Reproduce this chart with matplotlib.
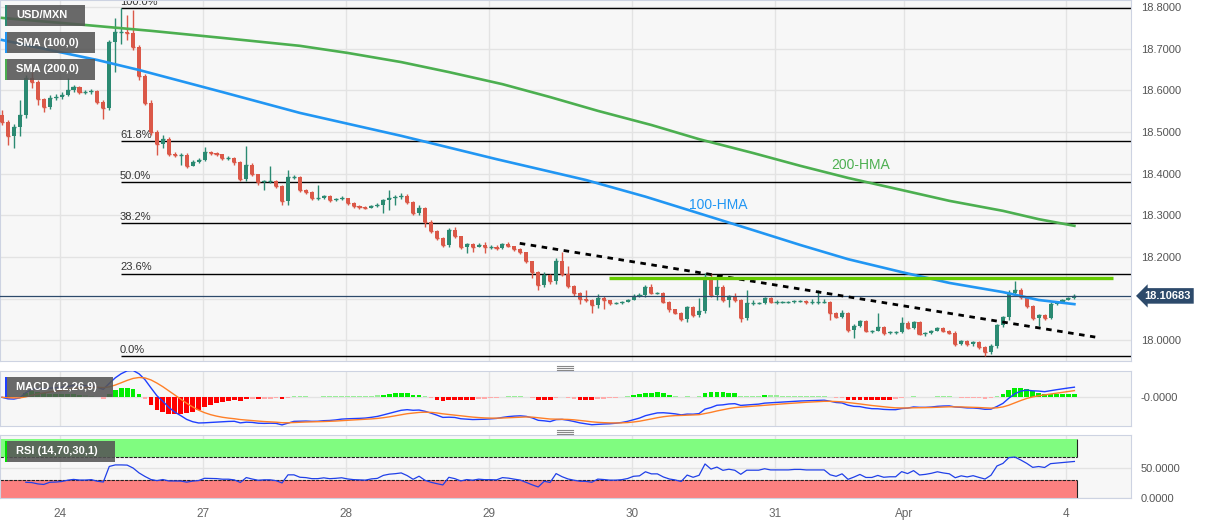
import numpy as np
import pandas as pd
import matplotlib.pyplot as plt
from matplotlib.patches import Rectangle
from matplotlib.lines import Line2D
from matplotlib.transforms import blended_transform_factory

plt.rcParams["font.family"] = ["Liberation Sans", "DejaVu Sans"]

# hourly USD/MXN candles, oldest first (open = previous close)
first_open = 18.541
closes = [
    18.524, 18.491, 18.512, 18.541, 18.630, 18.620, 18.579, 18.560, 18.582, 18.584,
    18.589, 18.601, 18.608, 18.596, 18.596, 18.599, 18.572, 18.558, 18.716, 18.740,
    18.740, 18.738, 18.704, 18.635, 18.570, 18.500, 18.471, 18.483, 18.447, 18.445,
    18.445, 18.419, 18.428, 18.433, 18.452, 18.450, 18.447, 18.438, 18.438, 18.428,
    18.387, 18.421, 18.399, 18.380, 18.383, 18.383, 18.371, 18.335, 18.392, 18.392,
    18.361, 18.356, 18.342, 18.342, 18.347, 18.337, 18.339, 18.342, 18.330, 18.323,
    18.320, 18.318, 18.323, 18.325, 18.337, 18.342, 18.344, 18.347, 18.332, 18.306,
    18.318, 18.284, 18.263, 18.246, 18.229, 18.265, 18.251, 18.224, 18.231, 18.224,
    18.229, 18.224, 18.224, 18.222, 18.231, 18.227, 18.219, 18.212, 18.191, 18.164,
    18.133, 18.157, 18.143, 18.191, 18.159, 18.131, 18.114, 18.099, 18.097, 18.085,
    18.102, 18.097, 18.090, 18.090, 18.092, 18.097, 18.107, 18.109, 18.128, 18.114,
    18.114, 18.092, 18.075, 18.066, 18.051, 18.080, 18.061, 18.071, 18.152, 18.109,
    18.128, 18.097, 18.107, 18.097, 18.054, 18.090, 18.090, 18.090, 18.102, 18.092,
    18.092, 18.092, 18.092, 18.095, 18.095, 18.092, 18.092, 18.092, 18.092, 18.066,
    18.056, 18.066, 18.025, 18.035, 18.047, 18.023, 18.023, 18.032, 18.018, 18.020,
    18.020, 18.042, 18.030, 18.044, 18.015, 18.018, 18.023, 18.030, 18.023, 18.018,
    17.991, 17.999, 17.991, 17.996, 17.984, 17.972, 17.987, 18.037, 18.056, 18.114,
    18.121, 18.104, 18.083, 18.054, 18.061, 18.054, 18.087, 18.092, 18.097, 18.102,
    18.10683,
]
highs = [
    18.553, 18.529, 18.519, 18.577, 18.637, 18.644, 18.625, 18.582, 18.589, 18.591,
    18.596, 18.630, 18.613, 18.611, 18.601, 18.603, 18.601, 18.577, 18.721, 18.774,
    18.798, 18.781, 18.793, 18.709, 18.639, 18.577, 18.505, 18.493, 18.488, 18.452,
    18.450, 18.450, 18.433, 18.438, 18.464, 18.455, 18.452, 18.447, 18.443, 18.440,
    18.431, 18.467, 18.426, 18.399, 18.385, 18.419, 18.385, 18.373, 18.409, 18.397,
    18.395, 18.363, 18.359, 18.373, 18.349, 18.349, 18.342, 18.347, 18.342, 18.332,
    18.325, 18.323, 18.325, 18.330, 18.339, 18.361, 18.349, 18.354, 18.351, 18.335,
    18.325, 18.320, 18.289, 18.265, 18.248, 18.270, 18.272, 18.251, 18.234, 18.234,
    18.234, 18.236, 18.229, 18.229, 18.234, 18.236, 18.227, 18.222, 18.212, 18.191,
    18.167, 18.164, 18.159, 18.198, 18.212, 18.179, 18.133, 18.116, 18.121, 18.099,
    18.111, 18.107, 18.097, 18.092, 18.095, 18.099, 18.111, 18.114, 18.133, 18.135,
    18.116, 18.116, 18.095, 18.075, 18.068, 18.083, 18.083, 18.102, 18.162, 18.162,
    18.157, 18.133, 18.109, 18.114, 18.099, 18.121, 18.097, 18.092, 18.104, 18.104,
    18.097, 18.095, 18.095, 18.097, 18.097, 18.097, 18.099, 18.121, 18.099, 18.095,
    18.068, 18.073, 18.068, 18.039, 18.049, 18.049, 18.025, 18.066, 18.035, 18.023,
    18.023, 18.056, 18.047, 18.047, 18.047, 18.020, 18.025, 18.032, 18.032, 18.025,
    18.023, 18.001, 18.001, 17.999, 17.999, 17.987, 17.991, 18.039, 18.059, 18.121,
    18.143, 18.126, 18.107, 18.085, 18.063, 18.063, 18.092, 18.095, 18.099, 18.104,
    18.111,
]
lows = [
    18.517, 18.469, 18.462, 18.491, 18.534, 18.606, 18.565, 18.548, 18.555, 18.577,
    18.579, 18.587, 18.596, 18.591, 18.591, 18.591, 18.567, 18.531, 18.553, 18.644,
    18.711, 18.721, 18.697, 18.625, 18.565, 18.493, 18.445, 18.462, 18.443, 18.440,
    18.421, 18.414, 18.421, 18.426, 18.431, 18.445, 18.443, 18.433, 18.433, 18.421,
    18.383, 18.383, 18.395, 18.373, 18.361, 18.378, 18.366, 18.325, 18.325, 18.387,
    18.356, 18.351, 18.337, 18.337, 18.339, 18.332, 18.335, 18.337, 18.325, 18.318,
    18.315, 18.315, 18.318, 18.320, 18.306, 18.313, 18.325, 18.339, 18.327, 18.301,
    18.301, 18.272, 18.258, 18.241, 18.224, 18.224, 18.246, 18.219, 18.210, 18.212,
    18.224, 18.210, 18.219, 18.217, 18.219, 18.224, 18.215, 18.207, 18.186, 18.150,
    18.121, 18.128, 18.135, 18.135, 18.155, 18.126, 18.107, 18.087, 18.092, 18.066,
    18.078, 18.075, 18.085, 18.087, 18.087, 18.092, 18.102, 18.104, 18.104, 18.111,
    18.111, 18.090, 18.068, 18.063, 18.047, 18.044, 18.056, 18.056, 18.066, 18.104,
    18.097, 18.092, 18.080, 18.092, 18.044, 18.049, 18.085, 18.087, 18.087, 18.090,
    18.087, 18.090, 18.090, 18.090, 18.092, 18.087, 18.087, 18.087, 18.090, 18.049,
    18.054, 18.054, 18.020, 18.005, 18.032, 18.020, 18.018, 18.023, 18.013, 18.015,
    18.015, 18.018, 18.027, 18.027, 18.013, 18.011, 18.015, 18.023, 18.020, 18.015,
    17.987, 17.989, 17.987, 17.987, 17.979, 17.963, 17.967, 17.982, 18.032, 18.049,
    18.111, 18.099, 18.078, 18.049, 18.035, 18.049, 18.051, 18.085, 18.092, 18.097,
    18.099,
]

# hull moving averages, read at sample candles
hma100_idx = [0, 16, 23, 37, 50, 67, 83, 98, 108, 117, 126, 134, 142, 151, 159, 168, 174, 180]
hma100 = [18.721, 18.673, 18.649, 18.596, 18.546, 18.491, 18.435, 18.385, 18.345, 18.305,
          18.265, 18.229, 18.195, 18.164, 18.138, 18.116, 18.097, 18.087]
hma200_idx = [0, 14, 25, 37, 50, 58, 67, 75, 84, 92, 100, 109, 117, 126, 134, 142, 151, 159, 168, 174, 180]
hma200 = [18.774, 18.757, 18.743, 18.726, 18.707, 18.690, 18.668, 18.644, 18.615, 18.584, 18.551,
          18.517, 18.483, 18.450, 18.419, 18.390, 18.361, 18.335, 18.311, 18.291, 18.275]

trend_idx = [86.9, 183.5]
trend_px = [18.233, 18.008]
resist_idx = [101.9, 186.5]
resist_px = 18.150

fib_ratios = [0.0, 0.236, 0.382, 0.5, 0.618, 1.0]
fib_labels = ["0.0%", "23.6%", "38.2%", "50.0%", "61.8%", "100.0%"]

price_ticks = [18.0, 18.1, 18.2, 18.3, 18.4, 18.5, 18.6, 18.7, 18.8]
day_labels = ["24", "27", "28", "29", "30", "31", "Apr", "4"]
day_pos = [9.7, 33.7, 57.7, 81.7, 105.7, 129.7, 151.4, 178.6]

GREEN = "#2b8a72"
RED = "#db5848"
W, H = 1207, 526


def fig_box(x0, y0, x1, y1):
    return [x0 / W, 1 - y1 / H, (x1 - x0) / W, (y1 - y0) / H]


fig = plt.figure(figsize=(W / 100, H / 100), dpi=100)
ax = fig.add_axes(fig_box(0, 0, 1131, 361))
ax_m = fig.add_axes(fig_box(0, 371, 1131, 426), sharex=ax)
ax_r = fig.add_axes(fig_box(0, 435, 1131, 498), sharex=ax)

for a in (ax, ax_m, ax_r):
    a.set_facecolor("#f7f7f7")
    for s in a.spines.values():
        s.set_color("#cdd3e2")
    a.yaxis.tick_right()
    a.tick_params(axis="y", length=0, pad=7, labelsize=8, labelcolor="#555555")
    a.tick_params(axis="x", length=0, labelbottom=False)
    a.grid(True, color="#e3e3e3", lw=1)
    a.set_axisbelow(True)

# ---- candles
c = np.array(closes)
o = np.r_[first_open, c[:-1]]
hi = np.maximum(np.array(highs), np.maximum(o, c))
lo = np.minimum(np.array(lows), np.minimum(o, c))
n = len(c)
x = np.arange(n)
col = np.where(c >= o, GREEN, RED)

ax.vlines(x, lo, hi, colors=col, lw=1, zorder=3)
ax.bar(x, np.abs(c - o), bottom=np.minimum(o, c), width=0.68, color=col, lw=0, zorder=4)
ax.hlines(c, x - 0.34, x + 0.34, colors=col, lw=1, zorder=4)

ax.set_xlim(-0.34, 189.5)
ax.set_ylim(18.817 - 0.0024 * 361, 18.817)

# fibonacci retracement of the swing
top_i = int(np.argmax(hi))
swing_hi, swing_lo = hi.max(), lo.min()
for r, lab in zip(fib_ratios, fib_labels):
    lvl = swing_lo + r * (swing_hi - swing_lo)
    ax.hlines(lvl, top_i, 189.5, color="black", lw=1, zorder=2)
    ax.text(top_i - 0.2, lvl + 0.003, lab, fontsize=8, color="#333333", va="bottom", ha="left", zorder=2)

ax.plot(hma100_idx, hma100, color="#2196f3", lw=1.9, zorder=5, solid_joinstyle="round")
ax.plot(hma200_idx, hma200, color="#4caf50", lw=1.9, zorder=5, solid_joinstyle="round")
ax.text(120.2, 18.325, "100-HMA", color="#2196f3", fontsize=10, ha="center", va="center")
ax.text(144.2, 18.421, "200-HMA", color="#4caf50", fontsize=10, ha="center", va="center")

ax.plot(trend_idx, trend_px, color="black", lw=2, ls=(0, (2, 2)), zorder=6)
ax.hlines(resist_px, resist_idx[0], resist_idx[1], color="#66cc00", lw=2.4, zorder=6)
ax.axhline(c[-1], color="#2d4a6b", lw=0.9, zorder=5)

ax.set_yticks(price_ticks)
ax.set_yticklabels(["" if abs(v - c[-1]) < 0.03 else f"{v:.4f}" for v in price_ticks])
ax.set_xticks(day_pos)

tr = blended_transform_factory(ax.transAxes, ax.transData)
ax.text(1.012, c[-1], f"{c[-1]:.5f}", transform=tr, color="white", fontsize=8, fontweight="bold",
        va="center", ha="left", clip_on=False,
        bbox=dict(boxstyle="larrow,pad=0.25", fc="#2d4a6b", ec="none"))

# ---- MACD (12,26,9)
s = pd.Series(c)
macd = s.ewm(span=12, adjust=False).mean() - s.ewm(span=26, adjust=False).mean()
signal = macd.ewm(span=9, adjust=False).mean()
hist = (macd - signal).values
big = np.abs(hist) > 0.12 * np.abs(hist).max()
hcol = np.where(hist >= 0, np.where(big, "#00ee00", "#99ee99"), np.where(big, "#ff0000", "#ffaaaa"))
ax_m.bar(x, hist, width=0.8, color=hcol, lw=0, zorder=2)
ax_m.plot(x, macd, color="#1f3fff", lw=1, zorder=3)
ax_m.plot(x, signal, color="#ff7f27", lw=1, zorder=3)
m_lo = min(macd.min(), signal.min(), hist.min()) * 1.04
ax_m.set_ylim(m_lo, -m_lo * 26.3 / 28.7)
ax_m.set_yticks([0])
ax_m.set_yticklabels(["-0.0000"])

# ---- RSI (14,70,30,1)
d = s.diff()
gain = d.clip(lower=0).ewm(alpha=1 / 14, adjust=False).mean()
loss = (-d.clip(upper=0)).ewm(alpha=1 / 14, adjust=False).mean()
rsi = (100 - 100 / (1 + gain / loss)).values
rsi[:4] = np.nan
band_x = [-0.34, n - 0.5]
ax_r.fill_between(band_x, 70, 100, color="#80fc80", lw=0, zorder=1)
ax_r.fill_between(band_x, 0, 30, color="#fc8080", lw=0, zorder=1)
for lvl in (70, 30):
    ax_r.hlines(lvl, band_x[0], band_x[1], color="#222222", lw=0.8, ls=(0, (3, 1)), zorder=2)
ax_r.vlines(band_x[1], 70, 100, color="#222222", lw=0.8, zorder=2)
ax_r.vlines(band_x[1], 0, 30, color="#222222", lw=0.8, zorder=2)
ax_r.plot(x, rsi, color="#2040e8", lw=0.9, zorder=3)
ax_r.set_ylim(0, 106.5)
ax_r.set_yticks([50, 0])
ax_r.set_yticklabels(["50.0000", "0.0000"])
ax_r.tick_params(axis="x", labelbottom=True, length=0, pad=7, labelsize=8.5, labelcolor="#666666")
ax_r.set_xticklabels(day_labels)

# ---- legend tags
tags = [
    ("USD/MXN", 5, 5, 85, 26, "#2b8a72"),
    ("SMA (100,0)", 5, 32, 95, 53, "#2196f3"),
    ("SMA (200,0)", 5, 59, 95, 80, "#4caf50"),
    ("MACD (12,26,9)", 5, 377, 113, 397, "#1f3fff"),
    ("RSI (14,70,30,1)", 5, 441, 115, 462, "#00dd00"),
]
for txt, x0, y0, x1, y1, accent in tags:
    fig.add_artist(Rectangle(fig_box(x0, y0, x1, y1)[:2], (x1 - x0) / W, (y1 - y0) / H,
                             transform=fig.transFigure, fc="#555555", alpha=0.88, ec="none", zorder=10))
    fig.add_artist(Rectangle(fig_box(x0, y0, x0 + 2, y1)[:2], 2 / W, (y1 - y0) / H,
                             transform=fig.transFigure, fc=accent, ec="none", zorder=11))
    fig.text((x0 + 11) / W, 1 - (y0 + y1) / 2 / H, txt, color="white", fontsize=8, fontweight="bold",
             va="center", ha="left", zorder=12)

# panel resize handles
for yy in (368, 432):
    for k in (-2, 0, 2):
        fig.add_artist(Line2D([557 / W, 573 / W], [1 - (yy + k) / H] * 2, color="#888888", lw=0.8,
                              transform=fig.transFigure))

fig.savefig("out.png", dpi=100)
